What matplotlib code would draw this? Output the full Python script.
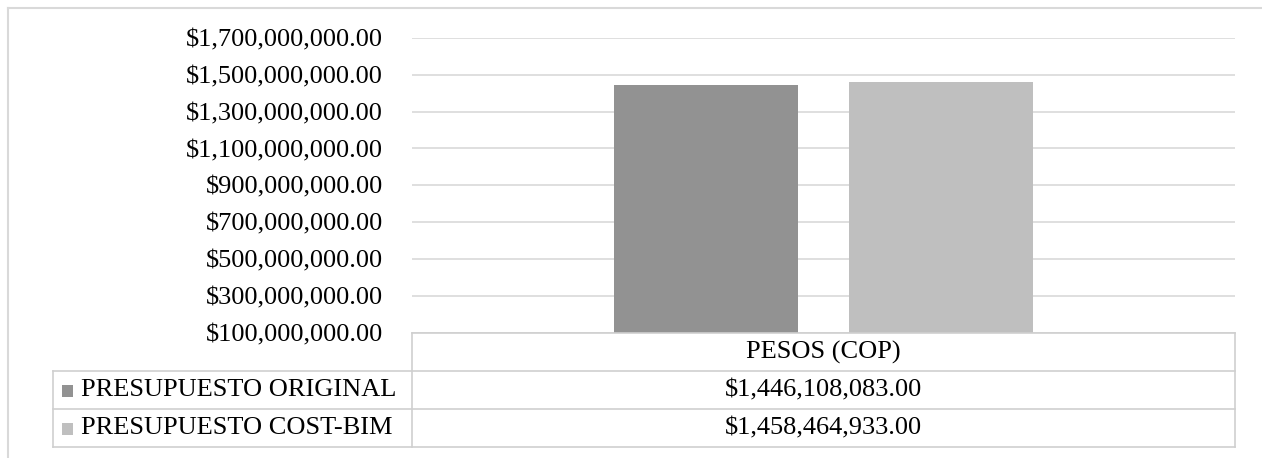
import matplotlib
matplotlib.use('Agg')
import matplotlib.pyplot as plt
from matplotlib.lines import Line2D
from matplotlib.patches import Rectangle
from matplotlib.ticker import FuncFormatter

# data
category = 'PESOS (COP)'
series_names = ['PRESUPUESTO ORIGINAL', 'PRESUPUESTO COST-BIM']
series_values = [1446108083.00, 1458464933.00]
series_colors = ['#929292', '#bfbfbf']
y_ticks = [100000000, 300000000, 500000000, 700000000, 900000000,
           1100000000, 1300000000, 1500000000, 1700000000]

plt.rcParams['font.family'] = ['Liberation Serif', 'DejaVu Serif']
FS = 19
GRID = '#d9d9d9'
BORDER = '#cfcfcf'

W, H = 1262, 458
fig = plt.figure(figsize=(W / 100, H / 100), dpi=100)

def fx(px):
    return px / W

def fy(py):
    return 1 - py / H

# plot area in pixels
x0, x1 = 412, 1235
ytop, ybot = 37.7, 333

ax = fig.add_axes([fx(x0), fy(ybot), fx(x1) - fx(x0), fy(ytop) - fy(ybot)])
offsets = [-0.1422, 0.1422]
for off, val, col in zip(offsets, series_values, series_colors):
    ax.bar(off, val, width=0.2236, color=col, zorder=3)

ax.set_xlim(-0.5, 0.5)
ax.set_ylim(y_ticks[0], y_ticks[-1])
ax.set_yticks(y_ticks)
ax.yaxis.set_major_formatter(FuncFormatter(lambda v, p: '${:,.2f}'.format(v)))
ax.grid(axis='y', color=GRID, lw=1.2, zorder=0)
ax.set_xticks([])
ax.tick_params(axis='y', length=0, pad=21, labelsize=FS)
for s in ax.spines.values():
    s.set_visible(False)

# outer chart frame (cropped on right and bottom)
fig.add_artist(Line2D([fx(8), fx(8)], [fy(8), 0], transform=fig.transFigure, color=GRID, lw=1.5))
fig.add_artist(Line2D([fx(8), 1], [fy(8), fy(8)], transform=fig.transFigure, color=GRID, lw=1.5))

# data table
rows = [333, 371, 409, 447]
def hline(y, xa, xb):
    fig.add_artist(Line2D([fx(xa), fx(xb)], [fy(y), fy(y)], transform=fig.transFigure, color=BORDER, lw=1.2))

def vline(x, ya, yb):
    fig.add_artist(Line2D([fx(x), fx(x)], [fy(ya), fy(yb)], transform=fig.transFigure, color=BORDER, lw=1.2))

hline(rows[0], x0, x1)
for r in rows[1:]:
    hline(r, 53, x1)
vline(53, rows[1], rows[3])
vline(x0, rows[0], rows[3])
vline(x1, rows[0], rows[3])

xc = (x0 + x1) / 2
fig.text(fx(xc), fy((rows[0] + rows[1]) / 2), category, ha='center', va='center', fontsize=FS)
for i, (name, val, col) in enumerate(zip(series_names, series_values, series_colors)):
    yc = (rows[i + 1] + rows[i + 2]) / 2
    fig.text(fx(xc), fy(yc), '${:,.2f}'.format(val), ha='center', va='center', fontsize=FS)
    # legend key
    fig.add_artist(Rectangle((fx(62), fy(yc + 6.5)), fx(11), 12 / H, transform=fig.transFigure,
                             color=col, lw=0))
    fig.text(fx(81), fy(yc), name, ha='left', va='center', fontsize=FS)

plt.savefig('out.png', dpi=100)
plt.close(fig)
